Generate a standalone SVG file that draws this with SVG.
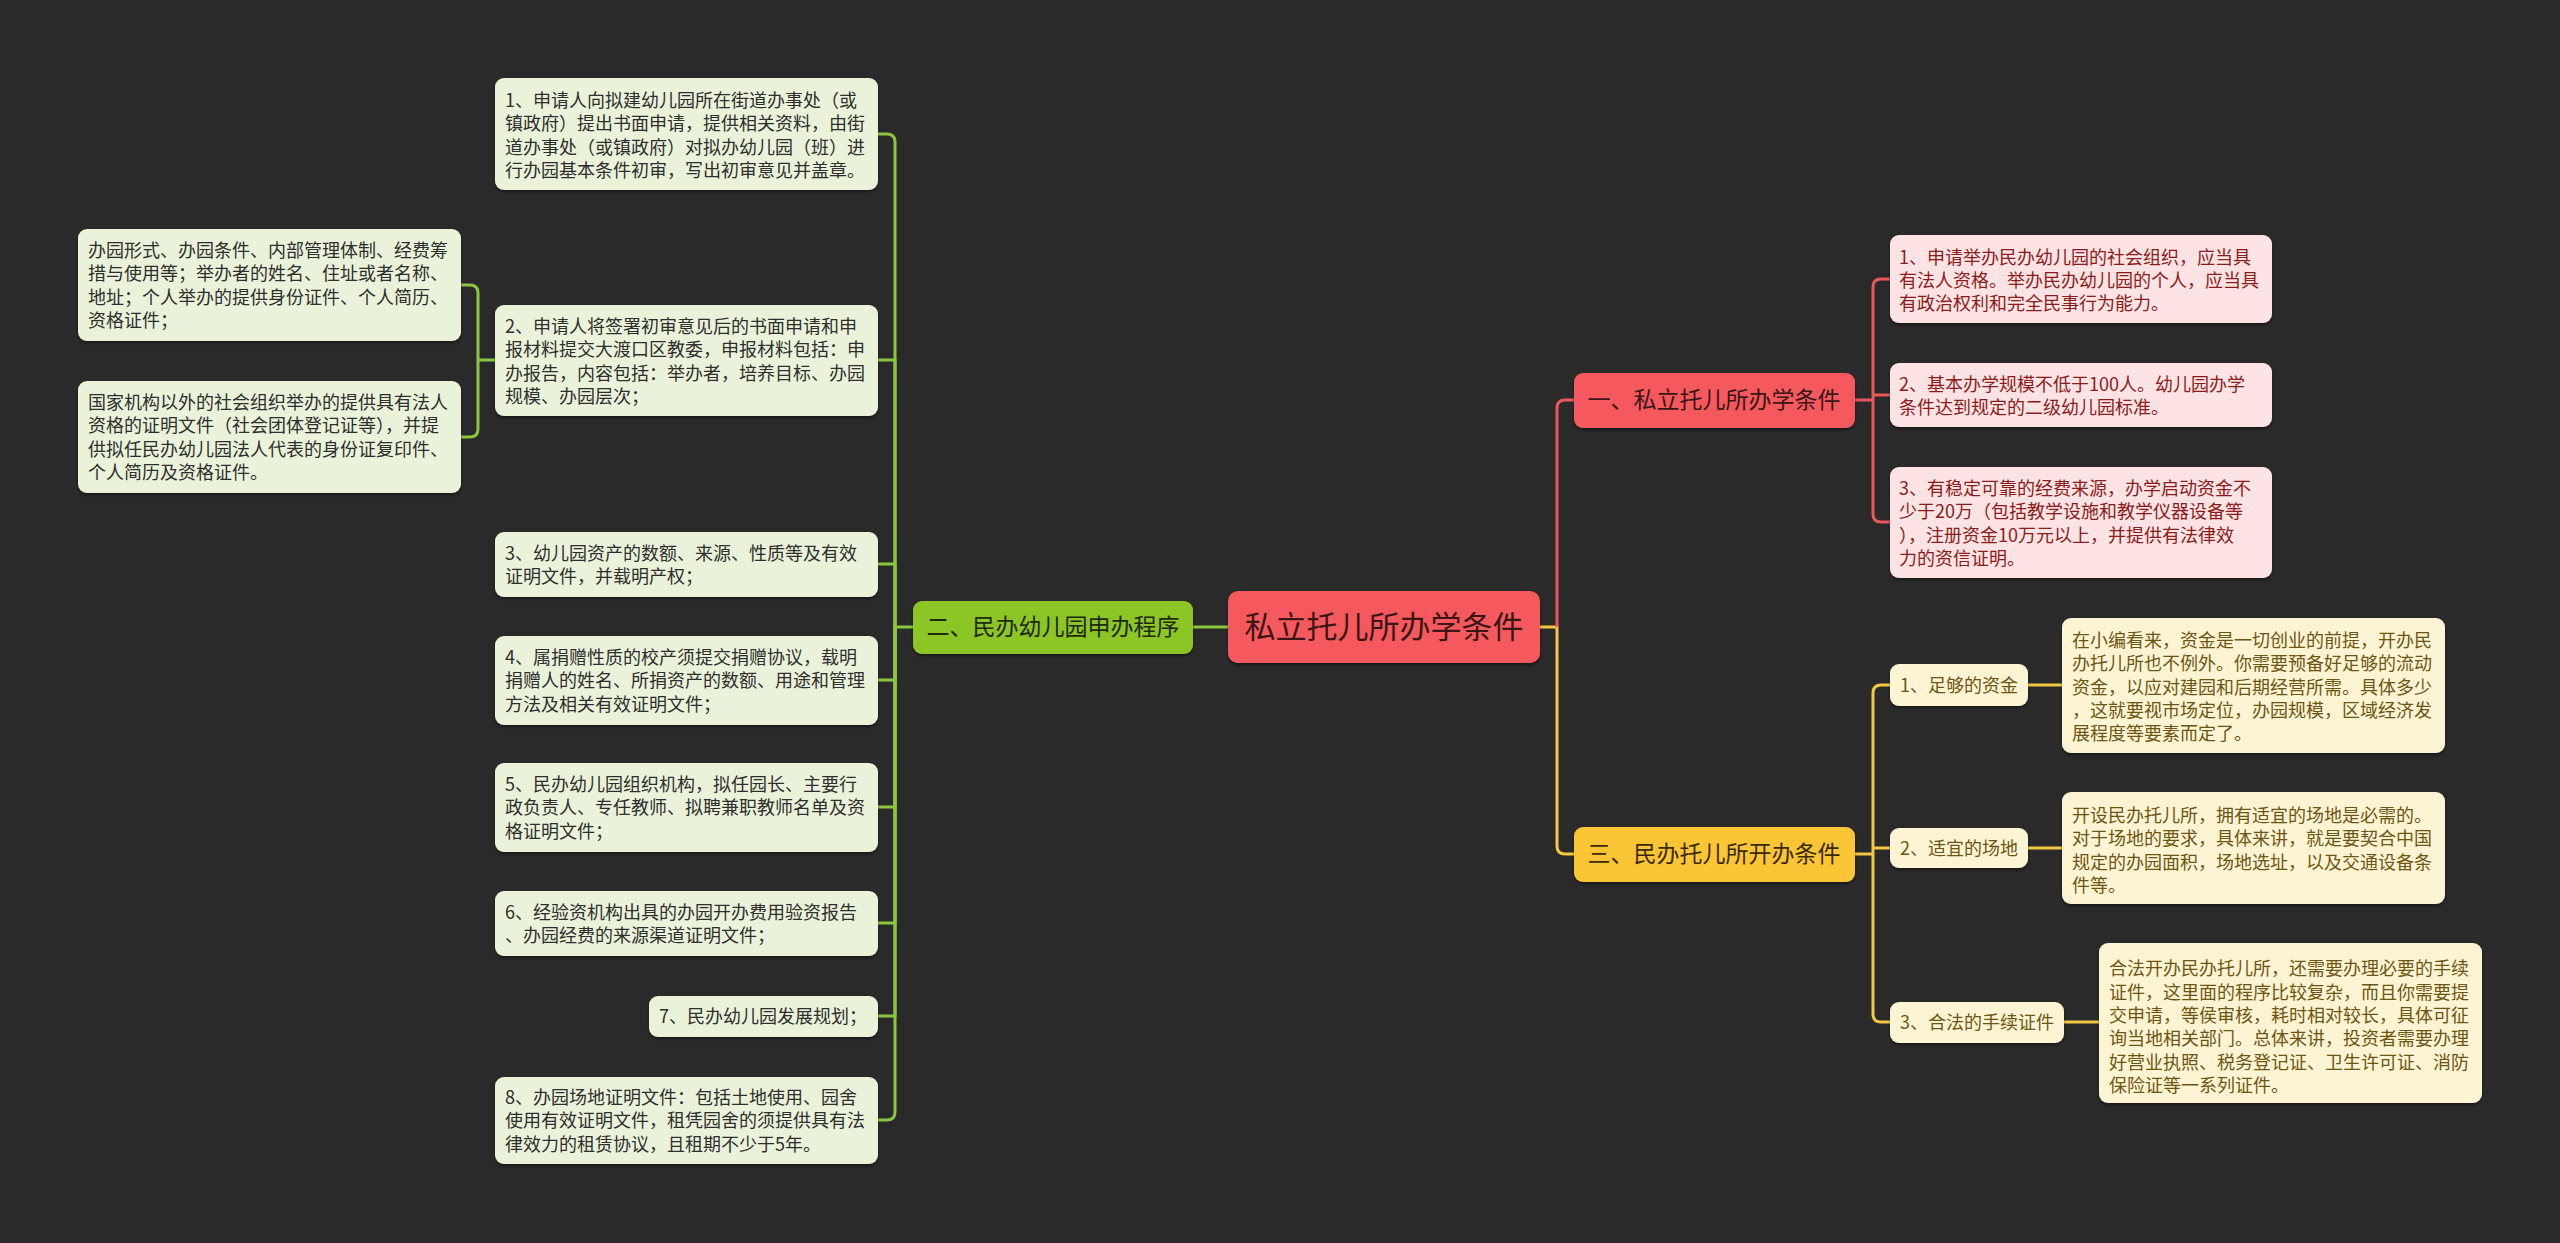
<svg xmlns="http://www.w3.org/2000/svg" width="2560" height="1243" viewBox="0 0 2560 1243">
<defs>
<filter id="sh" x="-5%" y="-10%" width="110%" height="125%"><feDropShadow dx="0" dy="2" stdDeviation="1.5" flood-color="#000" flood-opacity="0.45"/></filter>
<style>
text{font-family:"Noto Sans CJK SC","Noto Sans",sans-serif;}
.lf{font-size:18px;}
.gl{fill:#eaf3da;}
.gt{fill:#2e2e2e;}
.rl{fill:#fde3e3;}
.rt{fill:#8b1c1c;}
.yl{fill:#fdf4d4;}
.yt{fill:#6e5612;}
.cg{fill:none;stroke:#8cc63f;stroke-width:3;}
.cr{fill:none;stroke:#e8595d;stroke-width:3;}
.cy{fill:none;stroke:#f5c842;stroke-width:3;}
</style>
</defs>
<rect width="2560" height="1243" fill="#2a2a2a"/>
<g id="connectors">
<path class="cg" d="M1228 627H1193"/>
<path class="cg" d="M913 627H895"/>
<path class="cg" d="M895 627V142Q895 134 887 134H878"/>
<path class="cg" d="M895 627V360H878"/>
<path class="cg" d="M895 627V564H878"/>
<path class="cg" d="M895 627V680H878"/>
<path class="cg" d="M895 627V807H878"/>
<path class="cg" d="M895 627V923H878"/>
<path class="cg" d="M895 627V1016H878"/>
<path class="cg" d="M895 627V1112Q895 1120 887 1120H878"/>
<path class="cg" d="M495 360H478"/>
<path class="cg" d="M478 360V293Q478 285 470 285H461"/>
<path class="cg" d="M478 360V429Q478 437 470 437H461"/>
<path class="cy" d="M1540 627H1557V846Q1557 854 1565 854H1574"/>
<path class="cr" d="M1557 627V408Q1557 400 1565 400H1574"/>
<path class="cr" d="M1855 400H1873"/>
<path class="cr" d="M1873 400V287Q1873 279 1881 279H1890"/>
<path class="cr" d="M1873 395H1890"/>
<path class="cr" d="M1873 400V514Q1873 522 1881 522H1890"/>
<path class="cy" d="M1855 854H1873"/>
<path class="cy" d="M1873 854V693Q1873 685 1881 685H1890"/>
<path class="cy" d="M1873 848H1890"/>
<path class="cy" d="M1873 854V1014Q1873 1022 1881 1022H1890"/>
<path class="cy" d="M2028 685H2062"/>
<path class="cy" d="M2028 848H2062"/>
<path class="cy" d="M2064 1022H2099"/>
</g>
<g id="center">
<rect x="1228" y="591" width="312" height="72" rx="10" fill="#f5585d" filter="url(#sh)"/>
<text x="1384" y="638" font-size="31" text-anchor="middle" fill="#3a1616">私立托儿所办学条件</text>
</g>
<g id="branch-2">
<rect x="913" y="601" width="280" height="53" rx="9" fill="#8bc528" filter="url(#sh)"/>
<text x="1053" y="635" font-size="23" text-anchor="middle" fill="#1f2a0e">二、民办幼儿园申办程序</text>
</g>
<g id="branch-1">
<rect x="1574" y="373" width="281" height="55" rx="9" fill="#f5585d" filter="url(#sh)"/>
<text x="1714" y="408" font-size="23" text-anchor="middle" fill="#3a1616">一、私立托儿所办学条件</text>
</g>
<g id="branch-3">
<rect x="1574" y="827" width="281" height="55" rx="9" fill="#fcc534" filter="url(#sh)"/>
<text x="1714" y="862" font-size="23" text-anchor="middle" fill="#3a2a08">三、民办托儿所开办条件</text>
</g>
<g id="l1">
<rect class="gl" x="495" y="78" width="383" height="112" rx="9" filter="url(#sh)"/>
<text class="lf gt" x="505"><tspan x="505" y="107">1、申请人向拟建幼儿园所在街道办事处（或</tspan><tspan x="505" y="130">镇政府）提出书面申请，提供相关资料，由街</tspan><tspan x="505" y="154">道办事处（或镇政府）对拟办幼儿园（班）进</tspan><tspan x="505" y="177">行办园基本条件初审，写出初审意见并盖章。</tspan></text>
</g>
<g id="l2">
<rect class="gl" x="495" y="305" width="383" height="111" rx="9" filter="url(#sh)"/>
<text class="lf gt"><tspan x="505" y="333">2、申请人将签署初审意见后的书面申请和申</tspan><tspan x="505" y="356">报材料提交大渡口区教委，申报材料包括：申</tspan><tspan x="505" y="380">办报告，内容包括：举办者，培养目标、办园</tspan><tspan x="505" y="403">规模、办园层次；</tspan></text>
</g>
<g id="l2a">
<rect class="gl" x="78" y="229" width="383" height="112" rx="9" filter="url(#sh)"/>
<text class="lf gt"><tspan x="88" y="257">办园形式、办园条件、内部管理体制、经费筹</tspan><tspan x="88" y="280">措与使用等；举办者的姓名、住址或者名称、</tspan><tspan x="88" y="304">地址；个人举办的提供身份证件、个人简历、</tspan><tspan x="88" y="327">资格证件；</tspan></text>
</g>
<g id="l2b">
<rect class="gl" x="78" y="381" width="383" height="112" rx="9" filter="url(#sh)"/>
<text class="lf gt"><tspan x="88" y="409">国家机构以外的社会组织举办的提供具有法人</tspan><tspan x="88" y="432">资格的证明文件（社会团体登记证等），并提</tspan><tspan x="88" y="456">供拟任民办幼儿园法人代表的身份证复印件、</tspan><tspan x="88" y="479">个人简历及资格证件。</tspan></text>
</g>
<g id="l3">
<rect class="gl" x="495" y="532" width="383" height="65" rx="9" filter="url(#sh)"/>
<text class="lf gt"><tspan x="505" y="560">3、幼儿园资产的数额、来源、性质等及有效</tspan><tspan x="505" y="583">证明文件，并载明产权；</tspan></text>
</g>
<g id="l4">
<rect class="gl" x="495" y="636" width="383" height="89" rx="9" filter="url(#sh)"/>
<text class="lf gt"><tspan x="505" y="664">4、属捐赠性质的校产须提交捐赠协议，载明</tspan><tspan x="505" y="687">捐赠人的姓名、所捐资产的数额、用途和管理</tspan><tspan x="505" y="711">方法及相关有效证明文件；</tspan></text>
</g>
<g id="l5">
<rect class="gl" x="495" y="763" width="383" height="89" rx="9" filter="url(#sh)"/>
<text class="lf gt"><tspan x="505" y="791">5、民办幼儿园组织机构，拟任园长、主要行</tspan><tspan x="505" y="814">政负责人、专任教师、拟聘兼职教师名单及资</tspan><tspan x="505" y="838">格证明文件；</tspan></text>
</g>
<g id="l6">
<rect class="gl" x="495" y="891" width="383" height="65" rx="9" filter="url(#sh)"/>
<text class="lf gt"><tspan x="505" y="919">6、经验资机构出具的办园开办费用验资报告</tspan><tspan x="505" y="942">、办园经费的来源渠道证明文件；</tspan></text>
</g>
<g id="l7">
<rect class="gl" x="649" y="996" width="229" height="41" rx="9" filter="url(#sh)"/>
<text class="lf gt" x="659" y="1023">7、民办幼儿园发展规划；</text>
</g>
<g id="l8">
<rect class="gl" x="495" y="1077" width="383" height="87" rx="9" filter="url(#sh)"/>
<text class="lf gt"><tspan x="505" y="1104">8、办园场地证明文件：包括土地使用、园舍</tspan><tspan x="505" y="1127">使用有效证明文件，租凭园舍的须提供具有法</tspan><tspan x="505" y="1151">律效力的租赁协议，且租期不少于5年。</tspan></text>
</g>
<g id="r1a">
<rect class="rl" x="1890" y="235" width="382" height="88" rx="9" filter="url(#sh)"/>
<text class="lf rt"><tspan x="1899" y="264">1、申请举办民办幼儿园的社会组织，应当具</tspan><tspan x="1899" y="287">有法人资格。举办民办幼儿园的个人，应当具</tspan><tspan x="1899" y="310">有政治权利和完全民事行为能力。</tspan></text>
</g>
<g id="r1b">
<rect class="rl" x="1890" y="363" width="382" height="64" rx="9" filter="url(#sh)"/>
<text class="lf rt"><tspan x="1899" y="391">2、基本办学规模不低于100人。幼儿园办学</tspan><tspan x="1899" y="414">条件达到规定的二级幼儿园标准。</tspan></text>
</g>
<g id="r1c">
<rect class="rl" x="1890" y="467" width="382" height="111" rx="9" filter="url(#sh)"/>
<text class="lf rt"><tspan x="1899" y="495">3、有稳定可靠的经费来源，办学启动资金不</tspan><tspan x="1899" y="518">少于20万（包括教学设施和教学仪器设备等</tspan><tspan x="1899" y="542">），注册资金10万元以上，并提供有法律效</tspan><tspan x="1899" y="565">力的资信证明。</tspan></text>
</g>
<g id="y1">
<rect class="yl" x="1890" y="664" width="138" height="42" rx="9" filter="url(#sh)"/>
<text class="lf yt" x="1959" y="692" text-anchor="middle">1、足够的资金</text>
</g>
<g id="y1d">
<rect class="yl" x="2062" y="618" width="383" height="135" rx="9" filter="url(#sh)"/>
<text class="lf yt"><tspan x="2072" y="647">在小编看来，资金是一切创业的前提，开办民</tspan><tspan x="2072" y="670">办托儿所也不例外。你需要预备好足够的流动</tspan><tspan x="2072" y="694">资金，以应对建园和后期经营所需。具体多少</tspan><tspan x="2072" y="717">，这就要视市场定位，办园规模，区域经济发</tspan><tspan x="2072" y="740">展程度等要素而定了。</tspan></text>
</g>
<g id="y2">
<rect class="yl" x="1890" y="828" width="138" height="40" rx="9" filter="url(#sh)"/>
<text class="lf yt" x="1959" y="855" text-anchor="middle">2、适宜的场地</text>
</g>
<g id="y2d">
<rect class="yl" x="2062" y="792" width="383" height="112" rx="9" filter="url(#sh)"/>
<text class="lf yt"><tspan x="2072" y="822">开设民办托儿所，拥有适宜的场地是必需的。</tspan><tspan x="2072" y="845">对于场地的要求，具体来讲，就是要契合中国</tspan><tspan x="2072" y="869">规定的办园面积，场地选址，以及交通设备条</tspan><tspan x="2072" y="892">件等。</tspan></text>
</g>
<g id="y3">
<rect class="yl" x="1890" y="1002" width="174" height="41" rx="9" filter="url(#sh)"/>
<text class="lf yt" x="1977" y="1029" text-anchor="middle">3、合法的手续证件</text>
</g>
<g id="y3d">
<rect class="yl" x="2099" y="943" width="383" height="160" rx="9" filter="url(#sh)"/>
<text class="lf yt"><tspan x="2109" y="975">合法开办民办托儿所，还需要办理必要的手续</tspan><tspan x="2109" y="999">证件，这里面的程序比较复杂，而且你需要提</tspan><tspan x="2109" y="1022">交申请，等侯审核，耗时相对较长，具体可征</tspan><tspan x="2109" y="1045">询当地相关部门。总体来讲，投资者需要办理</tspan><tspan x="2109" y="1069">好营业执照、税务登记证、卫生许可证、消防</tspan><tspan x="2109" y="1092">保险证等一系列证件。</tspan></text>
</g>
</svg>
